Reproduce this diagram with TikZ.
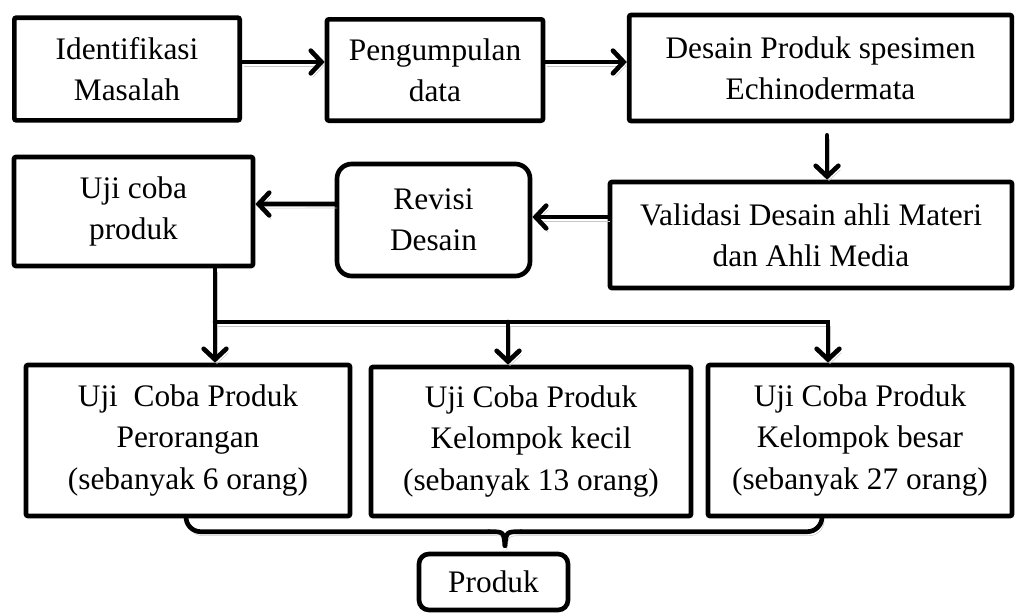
\documentclass[tikz,border=0pt]{standalone}
\usepackage{fontspec}
\setmainfont{Liberation Serif}
\usetikzlibrary{arrows.meta}

\begin{document}
\begin{tikzpicture}[x=0.75pt,y=-0.75pt,
  box/.style={draw, line width=3.5pt, rounded corners=1.5pt, align=center,
    inner sep=0pt, font=\fontsize{23.5}{31}\selectfont},
  roundbox/.style={box, rounded corners=11pt},
  line/.style={line width=3.5pt, line cap=round,
    preaction={draw=black!22, transform canvas={shift={(1.5pt,-3pt)}}}},
  arr/.style={line, -{Straight Barb[length=8pt,width=17pt,line cap=round]}}]
\useasboundingbox (0,0) rectangle (1016,614);

% first row
\node[box, minimum width=169pt, minimum height=77pt] (ident) at (127,69) {Identifikasi\\Masalah};
\node[box, minimum width=162pt, minimum height=76pt] (kumpul) at (435,70) {Pengumpulan\\data};
\node[box, minimum width=287pt, minimum height=79.5pt] (desain) at (820.5,68) {Desain Produk spesimen\\Echinodermata};

% second row
\node[box, minimum width=301.5pt, minimum height=79.5pt] (validasi) at (811,235) {Validasi Desain ahli Materi\\dan Ahli Media};
\node[roundbox, minimum width=144.75pt, minimum height=84pt] (revisi) at (433.5,220) {Revisi\\Desain};
\node[box, minimum width=179.25pt, minimum height=81.75pt] (ujicoba) at (133.5,211.5) {Uji coba\\produk};

% third row
\node[box, minimum width=243pt, minimum height=113.25pt] (ujiA) at (188,440.5) {Uji\ \ Coba Produk\\Perorangan\\(sebanyak 6 orang)};
\node[box, minimum width=240pt, minimum height=111.75pt] (ujiB) at (531,441.5) {Uji Coba Produk\\Kelompok kecil\\(sebanyak 13 orang)};
\node[box, minimum width=228pt, minimum height=113.25pt] (ujiC) at (860,440.5) {Uji Coba Produk\\Kelompok besar\\(sebanyak 27 orang)};

\node[box, rounded corners=7.5pt, minimum width=111.75pt, minimum height=42pt] (produk) at (493.5,582) {Produk};

% arrows
\draw[arr] ([yshift=5.25pt]ident.east) -- ([yshift=6pt]kumpul.west);
\draw[arr] ([yshift=6pt]kumpul.east) -- ([yshift=4.5pt]desain.west);
\coordinate (dv) at ([xshift=4.9pt]desain.south);
\draw[arr, shorten <=9pt] (dv) -- (dv |- validasi.north);
\draw[arr] ([yshift=13.5pt]validasi.west) -- ([yshift=2.25pt]revisi.east);
\draw[arr] ([yshift=12pt]revisi.west) -- ([yshift=5.6pt]ujicoba.east);

\coordinate (tA) at ([xshift=20.25pt]ujiA.north);
\coordinate (tB) at ([xshift=-17.25pt]ujiB.north);
\coordinate (tC) at ([xshift=-24pt]ujiC.north);
\coordinate (bus) at (tA |- 0,322);
\draw[arr] (ujicoba.south -| tA) -- (tA);
\draw[arr] (bus) -| (tC);
\draw[arr] (bus -| tB) -- (tB);

% brace
\coordinate (tip) at ([xshift=8.6pt,yshift=4.5pt]produk.north);
\coordinate (bl) at ([xshift=-12pt,yshift=10.5pt]tip);
\coordinate (br) at ([xshift=12pt,yshift=10.5pt]tip);
\draw[line, rounded corners=11pt] ([xshift=-1.5pt]ujiA.south) |- (bl);
\draw[line, rounded corners=11pt] (br) -| ([xshift=-28.5pt]ujiC.south);
\draw[line] (bl) .. controls ([xshift=-1pt,yshift=10.5pt]tip) .. (tip);
\draw[line] (br) .. controls ([xshift=1pt,yshift=10.5pt]tip) .. (tip);
\end{tikzpicture}
\end{document}
